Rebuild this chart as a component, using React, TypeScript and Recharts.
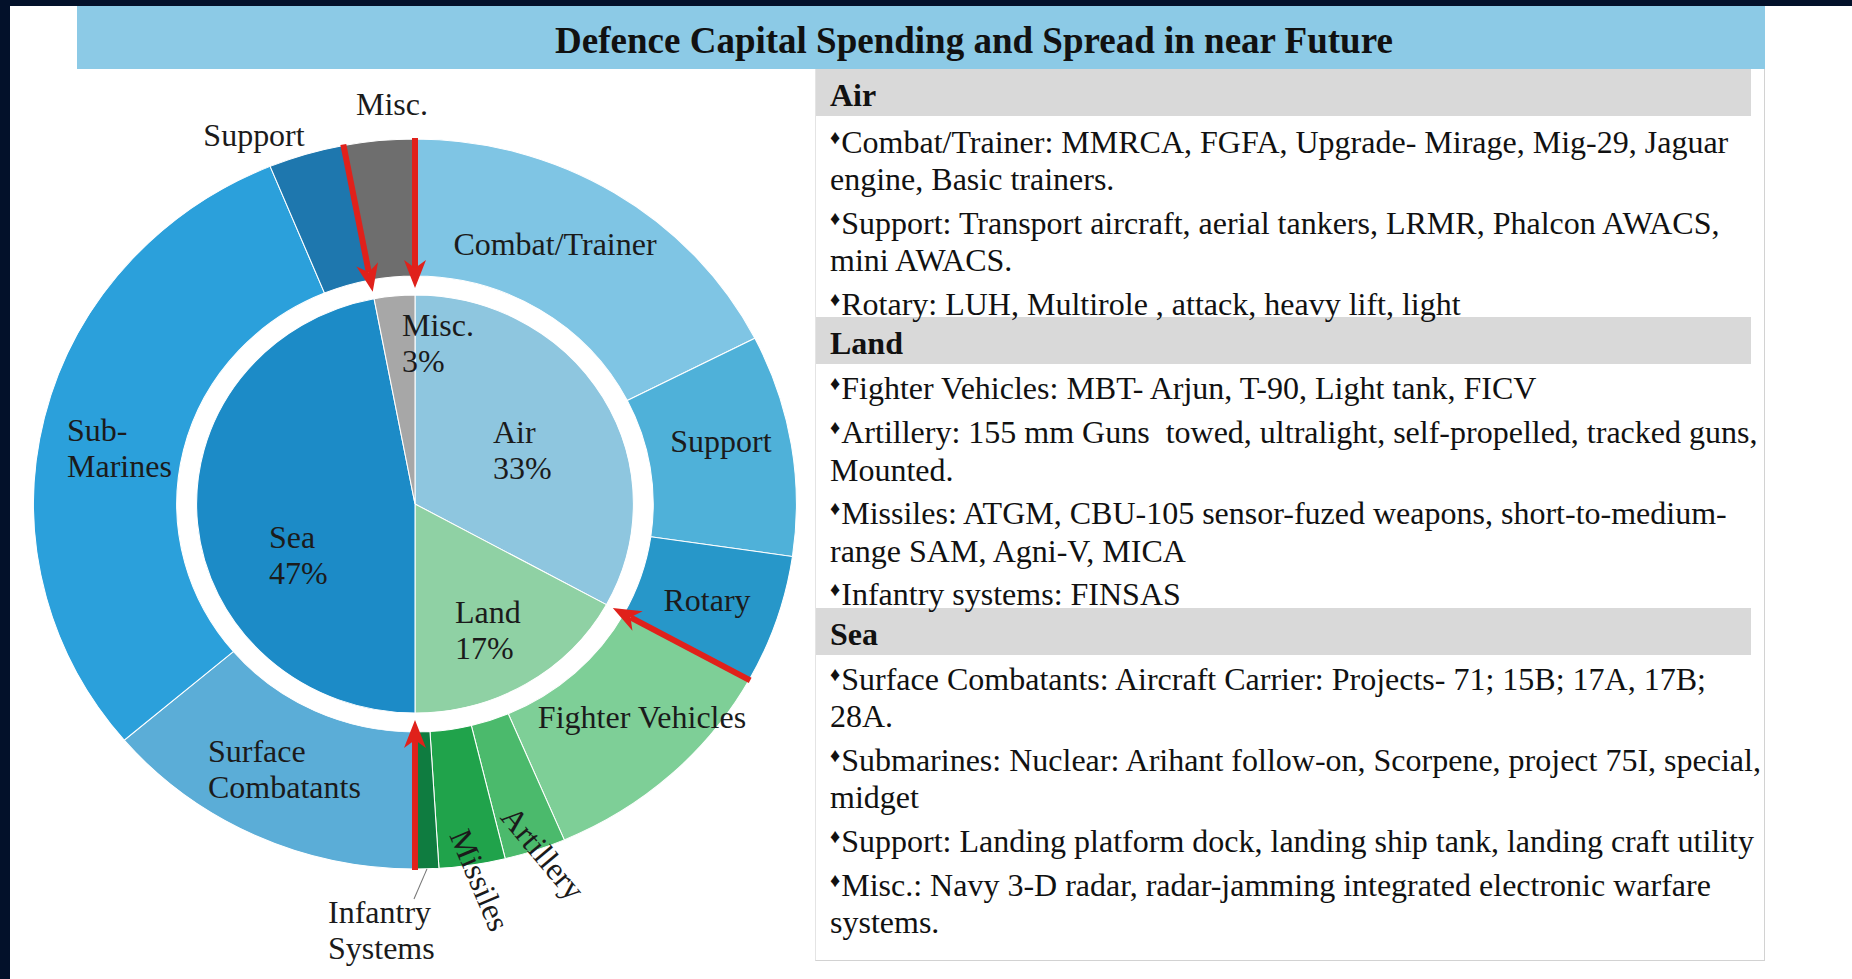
import React from 'react';
import { PieChart, Pie, Cell } from 'recharts';

// inner ring: share of capital spending per service
const groups = ['Air', 'Land', 'Sea', 'Misc.'];
const groupShares = [33, 17, 47, 3];
const groupColors = ['#8ec6df', '#8fd1a4', '#1c8bc7', '#a7a7a7'];

// outer ring: spread inside each service
const subLabels = [
  'Combat/Trainer', 'Support', 'Rotary',
  'Fighter Vehicles', 'Artillery', 'Missiles', 'Infantry Systems',
  'Surface Combatants', 'Sub-Marines', 'Support',
  'Misc.',
];
const subShares = [17.5, 9.8, 5.7, 10.6, 2.6, 2.8, 1.0, 13.8, 30.0, 3.2, 3.0];
const subColors = [
  '#7fc5e4', '#4fb1d9', '#2797c9',
  '#7ecf97', '#4bba6c', '#20a34b', '#0f7c40',
  '#5badd7', '#2ba0db', '#1e77ae',
  '#6e6e6e',
];

const panelSections = [
  {
    title: 'Air',
    items: [
      ['Combat/Trainer: MMRCA, FGFA, Upgrade- Mirage, Mig-29, Jaguar', 'engine, Basic trainers.'],
      ['Support: Transport aircraft, aerial tankers, LRMR, Phalcon AWACS,', 'mini AWACS.'],
      ['Rotary: LUH, Multirole , attack, heavy lift, light'],
    ],
  },
  {
    title: 'Land',
    items: [
      ['Fighter Vehicles: MBT- Arjun, T-90, Light tank, FICV'],
      ['Artillery: 155 mm Guns  towed, ultralight, self-propelled, tracked guns,', 'Mounted.'],
      ['Missiles: ATGM, CBU-105 sensor-fuzed weapons, short-to-medium-', 'range SAM, Agni-V, MICA'],
      ['Infantry systems: FINSAS'],
    ],
  },
  {
    title: 'Sea',
    items: [
      ['Surface Combatants: Aircraft Carrier: Projects- 71; 15B; 17A, 17B;', '28A.'],
      ['Submarines: Nuclear: Arihant follow-on, Scorpene, project 75I, special,', 'midget'],
      ['Support: Landing platform dock, landing ship tank, landing craft utility'],
      ['Misc.: Navy 3-D radar, radar-jamming integrated electronic warfare', 'systems.'],
    ],
  },
];

const FONT = '"Liberation Serif", "Times New Roman", serif';
const CX = 415;
const CY = 504;
const SX = 1.045; // the donut in the picture is a bit wider than tall
const R_OUT = 365;
const R_RING_IN = 228;
const R_PIE = 209;
const R_TIP = 216;

const innerData = groups.map((name, i) => ({ name, value: groupShares[i] }));
const outerData = subLabels.map((name, i) => ({ name, value: subShares[i] }));

// label spots, screen px from the centre
const subSpots: { dx: number; dy: number; anchor: string; lines?: string[]; rotate?: number }[] = [
  { dx: 140, dy: -260, anchor: 'middle' },
  { dx: 306, dy: -63, anchor: 'middle' },
  { dx: 292, dy: 96, anchor: 'middle' },
  { dx: 227, dy: 213, anchor: 'middle' },
  { dx: 128, dy: 349, anchor: 'middle', rotate: 50 },
  { dx: 65, dy: 376, anchor: 'middle', rotate: 67 },
  { dx: -87, dy: 408, anchor: 'start', lines: ['Infantry', 'Systems'] },
  { dx: -207, dy: 247, anchor: 'start', lines: ['Surface', 'Combatants'] },
  { dx: -348, dy: -74, anchor: 'start', lines: ['Sub-', 'Marines'] },
  { dx: -161, dy: -369, anchor: 'middle' },
  { dx: -23, dy: -400, anchor: 'middle' },
];
const groupSpots = [
  { dx: 78, dy: -72 },
  { dx: 40, dy: 108 },
  { dx: -146, dy: 33 },
  { dx: -13, dy: -179 },
];

const LINE = 36;

const PlacedText = ({ dx, dy, anchor, lines, rotate }: any) => {
  const x = CX + dx / SX;
  const y = CY + dy;
  return (
    <text
      transform={`translate(${x},${y}) scale(${1 / SX},1)${rotate ? ` rotate(${rotate})` : ''}`}
      textAnchor={anchor}
      dominantBaseline="central"
      fontFamily={FONT}
      fontSize={32}
      fill="#1b1b1b"
    >
      {lines.map((l: string, k: number) => (
        <tspan key={k} x={0} y={k * LINE}>{l}</tspan>
      ))}
    </text>
  );
};

const renderSubLabel = (props: any) => {
  const i = props.index;
  const spot = subSpots[i];
  const lines = spot.lines || [subLabels[i]];
  const text = <PlacedText {...spot} lines={lines} />;
  if (i !== 6) return <g key={`sl-${i}`}>{text}</g>;
  // leader line for the thin Infantry Systems slice
  const rad = (props.midAngle * Math.PI) / 180;
  const x1 = CX + R_OUT * Math.cos(rad);
  const y1 = CY - R_OUT * Math.sin(rad);
  return (
    <g key={`sl-${i}`}>
      <line x1={x1} y1={y1} x2={CX - 1 / SX} y2={CY + 395} stroke="#777" strokeWidth={1} />
      {text}
    </g>
  );
};

const renderGroupLabel = (props: any) => {
  const i = props.index;
  return (
    <g key={`gl-${i}`}>
      <PlacedText {...groupSpots[i]} anchor="start" lines={[groups[i], `${groupShares[i]}%`]} />
    </g>
  );
};

// red arrows: one on every boundary between the services
const Arrows = () => {
  const total = groupShares.reduce((a, b) => a + b, 0);
  let acc = 0;
  const angles: number[] = [];
  groupShares.forEach((v) => {
    angles.push((acc / total) * 360);
    acc += v;
  });
  const L = 28;
  const W = 11;
  const N = 8;
  return (
    <svg width={830} height={979} style={{ position: 'absolute', left: 0, top: 0, pointerEvents: 'none' }}>
      {angles.map((deg, k) => {
        const a = (deg * Math.PI) / 180;
        const sx = CX + SX * (R_OUT + 1) * Math.sin(a);
        const sy = CY - (R_OUT + 1) * Math.cos(a);
        const tx = CX + SX * R_TIP * Math.sin(a);
        const ty = CY - R_TIP * Math.cos(a);
        const len = Math.hypot(tx - sx, ty - sy);
        const ux = (tx - sx) / len;
        const uy = (ty - sy) / len;
        const px = -uy;
        const py = ux;
        const bx = tx - L * ux;
        const by = ty - L * uy;
        const pts = [
          [tx, ty],
          [bx + W * px, by + W * py],
          [tx - (L - N) * ux, ty - (L - N) * uy],
          [bx - W * px, by - W * py],
        ].map((p) => p.join(',')).join(' ');
        return (
          <g key={k}>
            <line x1={sx} y1={sy} x2={tx - (L - N) * ux} y2={ty - (L - N) * uy} stroke="#e0211b" strokeWidth={6} />
            <polygon points={pts} fill="#e0211b" />
          </g>
        );
      })}
    </svg>
  );
};

const LINE_H = 37.3;

const Panel = () => (
  <div
    style={{
      position: 'absolute',
      left: 815,
      top: 69,
      width: 950,
      height: 892,
      borderRight: '1px solid #d2d2d2',
      borderBottom: '1px solid #d2d2d2',
      borderLeft: '1px solid #e4e4e4',
      boxSizing: 'border-box',
      fontFamily: FONT,
      color: '#111',
    }}
  >
    {panelSections.map((s, si) => (
      <div key={s.title}>
        <div
          style={{
            marginTop: si === 0 ? 0 : -6,
            width: 935,
            height: 47,
            overflow: 'visible',
            background: '#d9d9d9',
            fontWeight: 'bold',
            fontSize: 32,
            lineHeight: '53px',
            paddingLeft: 14,
            boxSizing: 'border-box',
          }}
        >
          {s.title}
        </div>
        {s.items.map((lines, ii) => (
          <div key={ii} style={{ marginTop: ii === 0 ? (si === 0 ? 8 : 6) : 6.5, position: 'relative', zIndex: 1 }}>
            {lines.map((l, li) => (
              <div
                key={li}
                style={{
                  height: LINE_H,
                  overflow: 'visible',
                  fontSize: 32,
                  lineHeight: `${LINE_H}px`,
                  paddingLeft: 14,
                  whiteSpace: 'pre',
                }}
              >
                {li === 0 && (
                  <span style={{ fontSize: 20, lineHeight: '10px', position: 'relative', top: -9, marginRight: 1 }}>♦</span>
                )}
                {l}
              </div>
            ))}
          </div>
        ))}
      </div>
    ))}
  </div>
);

export default function App() {
  return (
    <div
      style={{
        position: 'absolute',
        left: 0,
        top: 0,
        width: 1852,
        height: 979,
        background: '#ffffff',
        overflow: 'hidden',
        fontFamily: FONT,
      }}
    >
      <div style={{ position: 'absolute', left: 0, top: 0, width: 1852, height: 6, background: '#03112a' }} />
      <div style={{ position: 'absolute', left: 0, top: 0, width: 10, height: 979, background: '#03112a' }} />
      <div
        style={{
          position: 'absolute',
          left: 77,
          top: 6,
          width: 1688,
          height: 63,
          background: '#8ccae6',
          boxSizing: 'border-box',
          paddingLeft: 106,
          textAlign: 'center',
          fontWeight: 'bold',
          fontSize: 37,
          lineHeight: '70px',
          color: '#111',
        }}
      >
        Defence Capital Spending and Spread in near Future
      </div>

      <div
        style={{
          position: 'absolute',
          left: 0,
          top: 0,
          width: 830,
          height: 979,
          transform: `scaleX(${SX})`,
          transformOrigin: `${CX}px 0px`,
        }}
      >
        <PieChart width={830} height={979} margin={{ top: 0, right: 0, bottom: 0, left: 0 }}>
          <Pie
            data={innerData}
            dataKey="value"
            nameKey="name"
            cx={CX}
            cy={CY}
            innerRadius={0}
            outerRadius={R_PIE}
            startAngle={90}
            endAngle={-270}
            stroke="#ffffff"
            strokeWidth={1}
            label={renderGroupLabel}
            labelLine={false}
            isAnimationActive={false}
          >
            {innerData.map((d, i) => (
              <Cell key={`g-${i}`} fill={groupColors[i]} />
            ))}
          </Pie>
          <Pie
            data={outerData}
            dataKey="value"
            nameKey="name"
            cx={CX}
            cy={CY}
            innerRadius={R_RING_IN}
            outerRadius={R_OUT}
            startAngle={90}
            endAngle={-270}
            stroke="#ffffff"
            strokeWidth={1}
            label={renderSubLabel}
            labelLine={false}
            isAnimationActive={false}
          >
            {outerData.map((d, i) => (
              <Cell key={`s-${i}`} fill={subColors[i]} />
            ))}
          </Pie>
        </PieChart>
      </div>
      <Arrows />
      <Panel />
    </div>
  );
}
